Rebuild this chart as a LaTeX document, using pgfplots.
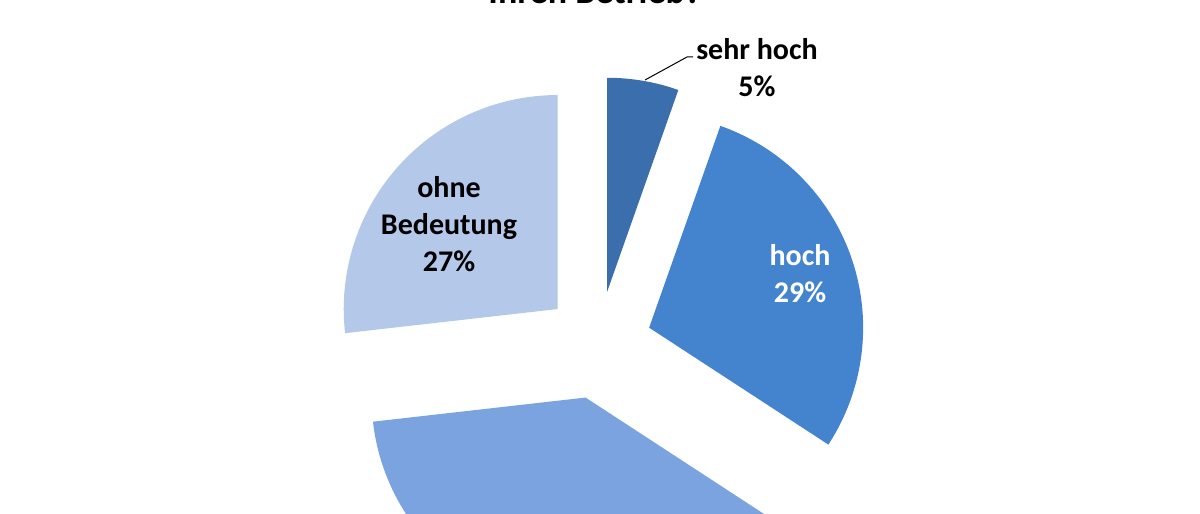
\documentclass[border=0pt]{standalone}
\usepackage{pgfplots}
\pgfplotsset{compat=1.18}
\usepackage{fontspec}
\setmainfont{Carlito}
\definecolor{cA}{HTML}{3A6EAD}
\definecolor{cB}{HTML}{4484CE}
\definecolor{cC}{HTML}{7BA3DF}
\definecolor{cD}{HTML}{B4C8EA}
% shares in percent: sehr hoch, hoch, (unten), ohne Bedeutung
\def\vA{5.4}\def\vB{28.8}\def\vC{39.0}\def\vD{26.8}
\pgfmathsetmacro\aA{90}
\pgfmathsetmacro\aB{\aA-3.6*\vA}
\pgfmathsetmacro\aC{\aB-3.6*\vB}
\pgfmathsetmacro\aD{\aC-3.6*\vC}
\pgfmathsetmacro\aE{\aD-3.6*\vD}
\pgfmathsetmacro\mA{(\aA+\aB)/2}
\pgfmathsetmacro\mB{(\aB+\aC)/2}
\pgfmathsetmacro\mC{(\aC+\aD)/2}
\pgfmathsetmacro\mD{(\aD+\aE)/2}
\begin{document}
\begin{tikzpicture}
\useasboundingbox (0,0) rectangle (600pt,257pt);
\begin{axis}[at={(0,0)}, anchor=south west, x=0.5pt, y=0.5pt,
  xmin=0, xmax=1200, ymin=0, ymax=514, hide axis, clip=true]
\fill[cA] (axis cs:598,169) ++(\mA:27pt) -- ++(\aA:107pt) arc[start angle=\aA, end angle=\aB, radius=107pt] -- cycle;
\fill[cB] (axis cs:598,169) ++(\mB:27pt) -- ++(\aB:107pt) arc[start angle=\aB, end angle=\aC, radius=107pt] -- cycle;
\fill[cC] (axis cs:598,169) ++(\mC:27pt) -- ++(\aC:107pt) arc[start angle=\aC, end angle=\aD, radius=107pt] -- cycle;
\fill[cD] (axis cs:598,169) ++(\mD:27pt) -- ++(\aD:107pt) arc[start angle=\aD, end angle=\aE, radius=107pt] -- cycle;
\node[anchor=base, font=\fontsize{18}{22}\selectfont\bfseries] at (axis cs:595,510) {Ihren Betrieb?};
\draw[black, line width=0.5pt] (axis cs:645,434) -- (axis cs:687,457) -- (axis cs:693,457);
\node[align=center, font=\fontsize{15}{18.5}\selectfont\bfseries] at (axis cs:757,446) {sehr hoch\\5\%};
\node[align=center, text=white, font=\fontsize{15}{18.5}\selectfont\bfseries] at (axis cs:800,240) {hoch\\29\%};
\node[align=center, font=\fontsize{15}{18.5}\selectfont\bfseries] at (axis cs:449,290) {ohne\\Bedeutung\\27\%};
\end{axis}
\end{tikzpicture}
\end{document}
